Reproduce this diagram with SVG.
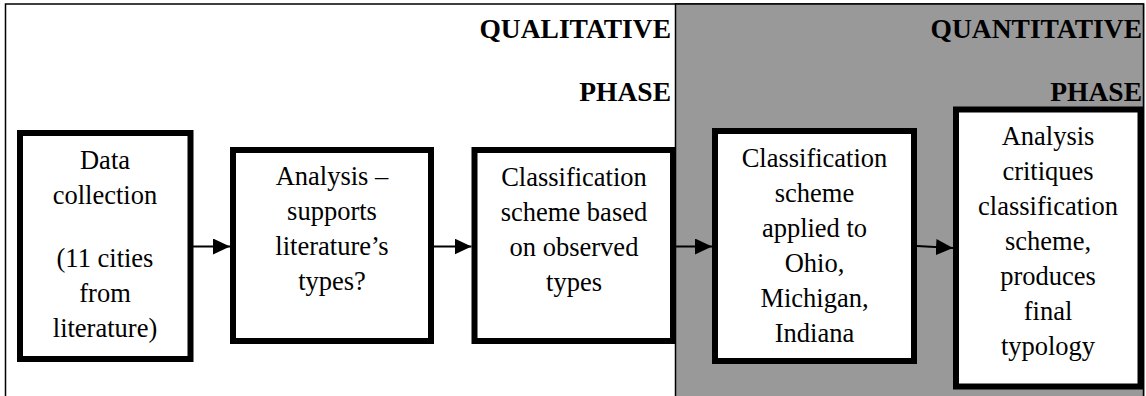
<svg xmlns="http://www.w3.org/2000/svg" width="1146" height="396" viewBox="0 0 1146 396">
<style>
.box{fill:#fff;stroke:#000;stroke-width:6}
.t{font-family:'Liberation Serif','Times New Roman',serif;font-size:26.5px;fill:#000;text-anchor:middle}
.h{font-family:'Liberation Serif','Times New Roman',serif;font-size:27.5px;font-weight:bold;fill:#000;text-anchor:end}
.c{stroke:#000;stroke-width:2;fill:none}
.frame{stroke:#000;stroke-width:1.5}
</style>
<defs>
<marker id="ah" markerWidth="17" markerHeight="16" refX="17" refY="8" orient="auto" markerUnits="userSpaceOnUse">
<path d="M0,0 L17,8 L0,16 Z" fill="#000"/>
</marker>
</defs>
<rect width="1146" height="396" fill="#fff"/>
<g id="frame">
<rect class="frame" x="5.5" y="4" width="1138" height="400" fill="#fff"/>
<rect class="frame" x="675.5" y="4" width="468" height="400" fill="#999"/>
</g>
<g id="headers">
<text class="h" x="671" y="38">QUALITATIVE</text>
<text class="h" x="671" y="101">PHASE</text>
<text class="h" x="1142" y="38">QUANTITATIVE</text>
<text class="h" x="1142" y="101">PHASE</text>
</g>
<g id="node1">
<rect class="box" x="20" y="133" width="170.5" height="226"/>
<text class="t"><tspan x="105" y="169">Data</tspan><tspan x="105" y="204">collection</tspan><tspan x="105" y="267">(11 cities</tspan><tspan x="105" y="302">from</tspan><tspan x="105" y="337">literature)</tspan></text>
</g>
<g id="node2">
<rect class="box" x="233" y="150" width="198" height="191"/>
<text class="t"><tspan x="332" y="185">Analysis –</tspan><tspan x="332" y="220">supports</tspan><tspan x="332" y="255">literature’s</tspan><tspan x="332" y="290">types?</tspan></text>
</g>
<g id="node3">
<rect class="box" x="474.5" y="150" width="198.5" height="191"/>
<text class="t"><tspan x="574" y="186">Classification</tspan><tspan x="574" y="221">scheme based</tspan><tspan x="574" y="256">on observed</tspan><tspan x="574" y="291">types</tspan></text>
</g>
<g id="node4">
<rect class="box" x="715" y="131" width="199" height="230"/>
<text class="t"><tspan x="814.5" y="167">Classification</tspan><tspan x="814.5" y="202">scheme</tspan><tspan x="814.5" y="237">applied to</tspan><tspan x="814.5" y="272">Ohio,</tspan><tspan x="814.5" y="307">Michigan,</tspan><tspan x="814.5" y="342">Indiana</tspan></text>
</g>
<g id="node5">
<rect class="box" x="956" y="109.5" width="184.5" height="277"/>
<text class="t"><tspan x="1048" y="145">Analysis</tspan><tspan x="1048" y="180">critiques</tspan><tspan x="1048" y="215">classification</tspan><tspan x="1048" y="250">scheme,</tspan><tspan x="1048" y="285">produces</tspan><tspan x="1048" y="320">final</tspan><tspan x="1048" y="355">typology</tspan></text>
</g>
<g id="connectors">
<line class="c" x1="193" y1="246.5" x2="230" y2="246.5" marker-end="url(#ah)"/>
<line class="c" x1="434" y1="246.5" x2="471.5" y2="246.5" marker-end="url(#ah)"/>
<line class="c" x1="676" y1="246.5" x2="712" y2="246.5" marker-end="url(#ah)"/>
<line class="c" x1="917" y1="246" x2="953" y2="248" marker-end="url(#ah)"/>
</g>
</svg>
